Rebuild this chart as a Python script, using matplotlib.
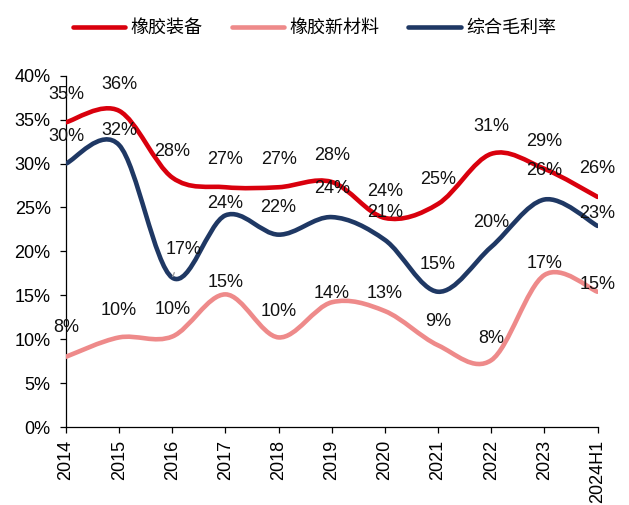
import matplotlib
matplotlib.use("Agg")
import matplotlib.pyplot as plt
from matplotlib.path import Path
from matplotlib.patches import PathPatch
from matplotlib.lines import Line2D

categories = ["2014", "2015", "2016", "2017", "2018", "2019", "2020", "2021", "2022", "2023", "2024H1"]
rubber_equipment = [34.7, 36.0, 28.4, 27.3, 27.3, 27.9, 23.8, 25.4, 31.1, 29.4, 26.2]
rubber_materials = [8.0, 10.2, 10.3, 15.1, 10.2, 14.2, 13.2, 9.3, 7.6, 17.3, 15.4]
overall_margin = [30.0, 32.1, 17.0, 24.1, 21.9, 23.9, 21.3, 15.4, 20.5, 25.9, 22.9]

series_names = ["橡胶装备", "橡胶新材料", "综合毛利率"]
series_colors = ["#D9000D", "#EE8A8A", "#1F3864"]

# label offsets (pixels above point) - layout only
off_red = [28, 26, 26, 28, 28, 26, 26, 24, 27, 27, 28]
off_pink = [29, 27, 27, 12, 26, 9, 18, 24, 22, 12, 7]
off_navy = [27, 15, 27, 12, 27, 29, 27, 27, 24, 29, 12]

DPI = 100
FS = 13
fig = plt.figure(figsize=(6.29, 5.05), dpi=DPI)
ax = fig.add_axes([66/629, 1-427/505, (597.5-66)/629, (427-75.7)/505])

x = list(range(len(categories)))


def smooth_path(xs, ys):
    n = len(xs)
    verts = [(xs[0], ys[0])]
    codes = [Path.MOVETO]
    for i in range(n - 1):
        p0 = (xs[i-1], ys[i-1]) if i > 0 else (xs[i], ys[i])
        p1 = (xs[i], ys[i])
        p2 = (xs[i+1], ys[i+1])
        p3 = (xs[i+2], ys[i+2]) if i + 2 < n else (xs[i+1], ys[i+1])
        c1 = (p1[0] + (p2[0]-p0[0])/6, p1[1] + (p2[1]-p0[1])/6)
        c2 = (p2[0] - (p3[0]-p1[0])/6, p2[1] - (p3[1]-p1[1])/6)
        verts += [c1, c2, p2]
        codes += [Path.CURVE4]*3
    return Path(verts, codes)


all_series = [rubber_equipment, rubber_materials, overall_margin]
all_offsets = [off_red, off_pink, off_navy]

for vals, col in zip(all_series, series_colors):
    patch = PathPatch(smooth_path(x, vals), facecolor="none", edgecolor=col,
                      lw=3.3, capstyle="round", joinstyle="round", zorder=3)
    ax.add_patch(patch)

px2pt = 72 / DPI
for si, (vals, offs) in enumerate(zip(all_series, all_offsets)):
    for i, v in enumerate(vals):
        txt = f"{round(v):d}%"
        if si == 2 and i == 2:
            ax.annotate(txt, xy=(i, v), xytext=(11*px2pt, 28*px2pt), textcoords="offset points",
                        ha="center", va="center", fontsize=FS, family="Liberation Sans",
                        color="#111111", zorder=5,
                        arrowprops=dict(arrowstyle="-", color="#A0A0A0", lw=1,
                                        shrinkA=9, shrinkB=1))
        else:
            ax.annotate(txt, xy=(i, v), xytext=(0, offs[i]*px2pt), textcoords="offset points",
                        ha="center", va="center", fontsize=FS, family="Liberation Sans",
                        color="#111111", zorder=5)

ax.set_xlim(0, len(categories)-1)
ax.set_ylim(0, 40)
ax.set_xticks(x)
ax.set_xticklabels(categories, rotation=90, fontsize=FS, family="Liberation Sans")
ax.set_yticks(range(0, 41, 5))
ax.set_yticklabels([f"{t}%" for t in range(0, 41, 5)], fontsize=FS, family="Liberation Sans")
for s in ["top", "right"]:
    ax.spines[s].set_visible(False)
for s in ["left", "bottom"]:
    ax.spines[s].set_color("#000000")
    ax.spines[s].set_linewidth(0.9)
ax.tick_params(axis="both", direction="out", length=4, width=0.9, color="#000000")
ax.tick_params(axis="y", pad=7)
ax.tick_params(axis="x", pad=5)
ax.set_facecolor("white")

handles = [Line2D([0], [0], color=c, lw=3.3, solid_capstyle="round") for c in series_colors]
fig.legend(handles, series_names, loc="center", bbox_to_anchor=(314.5/629, 1-28/505), ncol=3,
           frameon=False, prop={"family": ["Noto Sans CJK SC", "DejaVu Sans"], "size": FS},
           handlelength=2.9, handletextpad=0.3, columnspacing=1.6)

fig.savefig("out.png", dpi=DPI, facecolor="white")
